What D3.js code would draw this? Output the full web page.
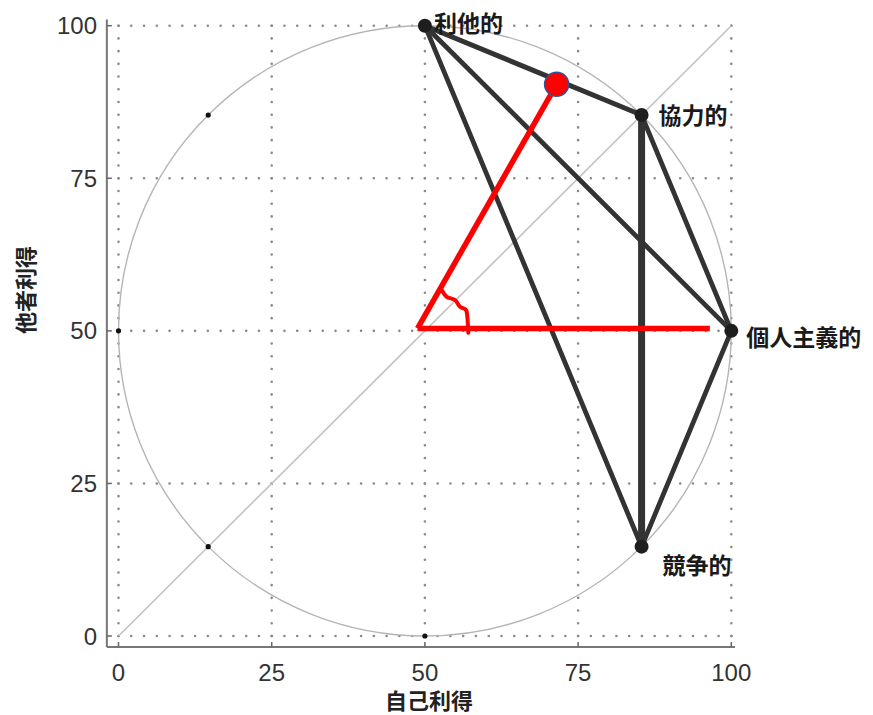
<!DOCTYPE html>
<html>
<head>
<meta charset="utf-8">
<script src="https://cdn.jsdelivr.net/npm/d3@7"></script>
<style>
  html, body { margin: 0; padding: 0; background: #fff; }
  svg { display: block; }
</style>
</head>
<body>
<svg id="chart" width="873" height="715"></svg>
<script>
// ---------------- DATA ----------------
const xTicks = [0, 25, 50, 75, 100];
const yTicks = [0, 25, 50, 75, 100];
const xTitle = "自己利得";
const yTitle = "他者利得";

// main orientation nodes (self gain, other gain)
const nodeNames = ["利他的", "協力的", "個人主義的", "競争的"];
const nodeSelf  = [50, 85.36, 100, 85.36];
const nodeOther = [100, 85.36, 50, 14.64];

// edges between nodes (indices into node arrays)
const edgeFrom = [0, 0, 0, 1, 1, 2];
const edgeTo   = [1, 2, 3, 2, 3, 3];

// small dots on the circle
const dotSelf  = [14.64, 14.64, 0, 50];
const dotOther = [85.36, 14.64, 50, 0];

// reference circle and diagonal
const circleCenter = [50, 50];
const circleRadius = 50;
const diagStart = [0, 0];
const diagEnd = [100, 100];

// red annotation
const redOrigin = [48.8, 50.4];
const redTip = [71.5, 90.4];
const redHorizEnd = [96.5, 50.4];
const angleMarkSelf  = [52.74, 53.56, 54.91, 55.73, 56.71, 56.92, 57.08];
const angleMarkOther = [56.68, 55.58, 55.05, 53.95, 53.41, 52.31, 49.69];

// ---------------- DRAW ----------------
const svg = d3.select("#chart");
const x = d3.scaleLinear().domain([0, 100]).range([118.5, 731.3]);
const y = d3.scaleLinear().domain([0, 100]).range([636, 25.7]);

const axisLeftX = x(-1.9);
const axisBottomY = y(-1.8);

svg.append("defs").append("clipPath").attr("id", "plotclip")
  .append("rect")
  .attr("x", axisLeftX + 1).attr("y", 5)
  .attr("width", 760 - axisLeftX).attr("height", axisBottomY - 6);

const grid = svg.append("g").attr("clip-path", "url(#plotclip)");
const period = 25 / 12;
const px = Math.abs(x(period) - x(0));
const py = Math.abs(y(period) - y(0));

// horizontal dotted grid
grid.selectAll("line.hg").data(yTicks).join("line")
  .attr("class", "hg")
  .attr("x1", x(-period)).attr("x2", x(101))
  .attr("y1", d => y(d)).attr("y2", d => y(d))
  .attr("stroke", "#8a8a8a").attr("stroke-width", 2.6)
  .attr("stroke-linecap", "round")
  .attr("stroke-dasharray", `0 ${px}`);

// vertical dotted grid
grid.selectAll("line.vg").data(xTicks).join("line")
  .attr("class", "vg")
  .attr("x1", d => x(d)).attr("x2", d => x(d))
  .attr("y1", y(-period)).attr("y2", y(101))
  .attr("stroke", "#8a8a8a").attr("stroke-width", 2.6)
  .attr("stroke-linecap", "round")
  .attr("stroke-dasharray", `0 ${py}`);

// axis lines
svg.append("line")
  .attr("x1", axisLeftX).attr("x2", axisLeftX)
  .attr("y1", y(101)).attr("y2", axisBottomY)
  .attr("stroke", "#777").attr("stroke-width", 2);
svg.append("line")
  .attr("x1", axisLeftX).attr("x2", x(100.6))
  .attr("y1", axisBottomY).attr("y2", axisBottomY)
  .attr("stroke", "#777").attr("stroke-width", 2);

// ticks (inward)
svg.selectAll("line.yt").data(yTicks).join("line")
  .attr("x1", axisLeftX).attr("x2", axisLeftX + 5)
  .attr("y1", d => y(d)).attr("y2", d => y(d))
  .attr("stroke", "#666").attr("stroke-width", 1.5);
svg.selectAll("line.xt").data(xTicks).join("line")
  .attr("x1", d => x(d)).attr("x2", d => x(d))
  .attr("y1", axisBottomY).attr("y2", axisBottomY - 5)
  .attr("stroke", "#666").attr("stroke-width", 1.5);

// tick labels
const numFont = "'Liberation Sans', Arial, Helvetica, sans-serif";
svg.selectAll("text.yl").data(yTicks).join("text")
  .attr("x", 97).attr("y", d => y(d))
  .attr("text-anchor", "end").attr("dominant-baseline", "central")
  .attr("font-family", numFont).attr("font-size", 24)
  .attr("fill", "#333")
  .text(d => d);
svg.selectAll("text.xl").data(xTicks).join("text")
  .attr("x", d => x(d)).attr("y", 672)
  .attr("text-anchor", "middle").attr("dominant-baseline", "central")
  .attr("font-family", numFont).attr("font-size", 24)
  .attr("fill", "#333")
  .text(d => d);

// axis titles
const cjkFont = "'Noto Sans CJK JP', 'Noto Sans CJK TC', sans-serif";
svg.append("text")
  .attr("x", x(50) + 4).attr("y", 699)
  .attr("text-anchor", "middle").attr("dominant-baseline", "central")
  .attr("font-family", cjkFont).attr("font-weight", "bold").attr("font-size", 22)
  .attr("fill", "#222")
  .text(xTitle);
svg.append("text")
  .attr("transform", "translate(24,290) rotate(-90)")
  .attr("text-anchor", "middle").attr("dominant-baseline", "central")
  .attr("font-family", cjkFont).attr("font-weight", "bold").attr("font-size", 22)
  .attr("fill", "#222")
  .text(yTitle);

// reference circle
svg.append("ellipse")
  .attr("cx", x(circleCenter[0])).attr("cy", y(circleCenter[1]))
  .attr("rx", x(circleRadius) - x(0)).attr("ry", y(0) - y(circleRadius))
  .attr("fill", "none").attr("stroke", "#b5b5b5").attr("stroke-width", 1.4);

// diagonal
svg.append("line")
  .attr("x1", x(diagStart[0])).attr("y1", y(diagStart[1]))
  .attr("x2", x(diagEnd[0])).attr("y2", y(diagEnd[1]))
  .attr("stroke", "#c2c2c2").attr("stroke-width", 1.6);

// small dots
svg.selectAll("circle.sd").data(dotSelf).join("circle")
  .attr("cx", d => x(d)).attr("cy", (d, i) => y(dotOther[i]))
  .attr("r", 2.6).attr("fill", "#111");

// edges
const edgeWidths = [5, 4.8, 4.8, 4.8, 7, 4.8];
svg.selectAll("line.edge").data(edgeFrom).join("line")
  .attr("x1", d => x(nodeSelf[d])).attr("y1", d => y(nodeOther[d]))
  .attr("x2", (d, i) => x(nodeSelf[edgeTo[i]])).attr("y2", (d, i) => y(nodeOther[edgeTo[i]]))
  .attr("stroke", "#333").attr("stroke-width", (d, i) => edgeWidths[i])
  .attr("stroke-linecap", "round");

// nodes
svg.selectAll("circle.node").data(nodeNames).join("circle")
  .attr("cx", (d, i) => x(nodeSelf[i])).attr("cy", (d, i) => y(nodeOther[i]))
  .attr("r", 7).attr("fill", "#1e1e1e");

// node labels
const labelDx = [9, 17, 15, 21];
const labelDy = [-4, -1.5, 5, 17];
svg.selectAll("text.nl").data(nodeNames).join("text")
  .attr("x", (d, i) => x(nodeSelf[i]) + labelDx[i])
  .attr("y", (d, i) => y(nodeOther[i]) + labelDy[i])
  .attr("dominant-baseline", "central")
  .attr("font-family", cjkFont).attr("font-weight", "bold").attr("font-size", 23)
  .attr("fill", "#1a1a1a")
  .text(d => d);

// red annotation
svg.append("line")
  .attr("x1", x(redOrigin[0])).attr("y1", y(redOrigin[1]))
  .attr("x2", x(redHorizEnd[0])).attr("y2", y(redHorizEnd[1]))
  .attr("stroke", "#ff0000").attr("stroke-width", 5.5);
svg.append("line")
  .attr("x1", x(redOrigin[0])).attr("y1", y(redOrigin[1]))
  .attr("x2", x(redTip[0])).attr("y2", y(redTip[1]))
  .attr("stroke", "#ff0000").attr("stroke-width", 5.5);
svg.append("path")
  .datum(angleMarkSelf.map((s, i) => [s, angleMarkOther[i]]))
  .attr("d", d3.line().x(d => x(d[0])).y(d => y(d[1])).curve(d3.curveCatmullRom))
  .attr("fill", "none").attr("stroke", "#ff0000").attr("stroke-width", 4)
  .attr("stroke-linecap", "round");
svg.append("circle")
  .attr("cx", x(redTip[0])).attr("cy", y(redTip[1]))
  .attr("r", 12).attr("fill", "#ff0000")
  .attr("stroke", "#2f5597").attr("stroke-width", 1.6);
</script>
</body>
</html>
